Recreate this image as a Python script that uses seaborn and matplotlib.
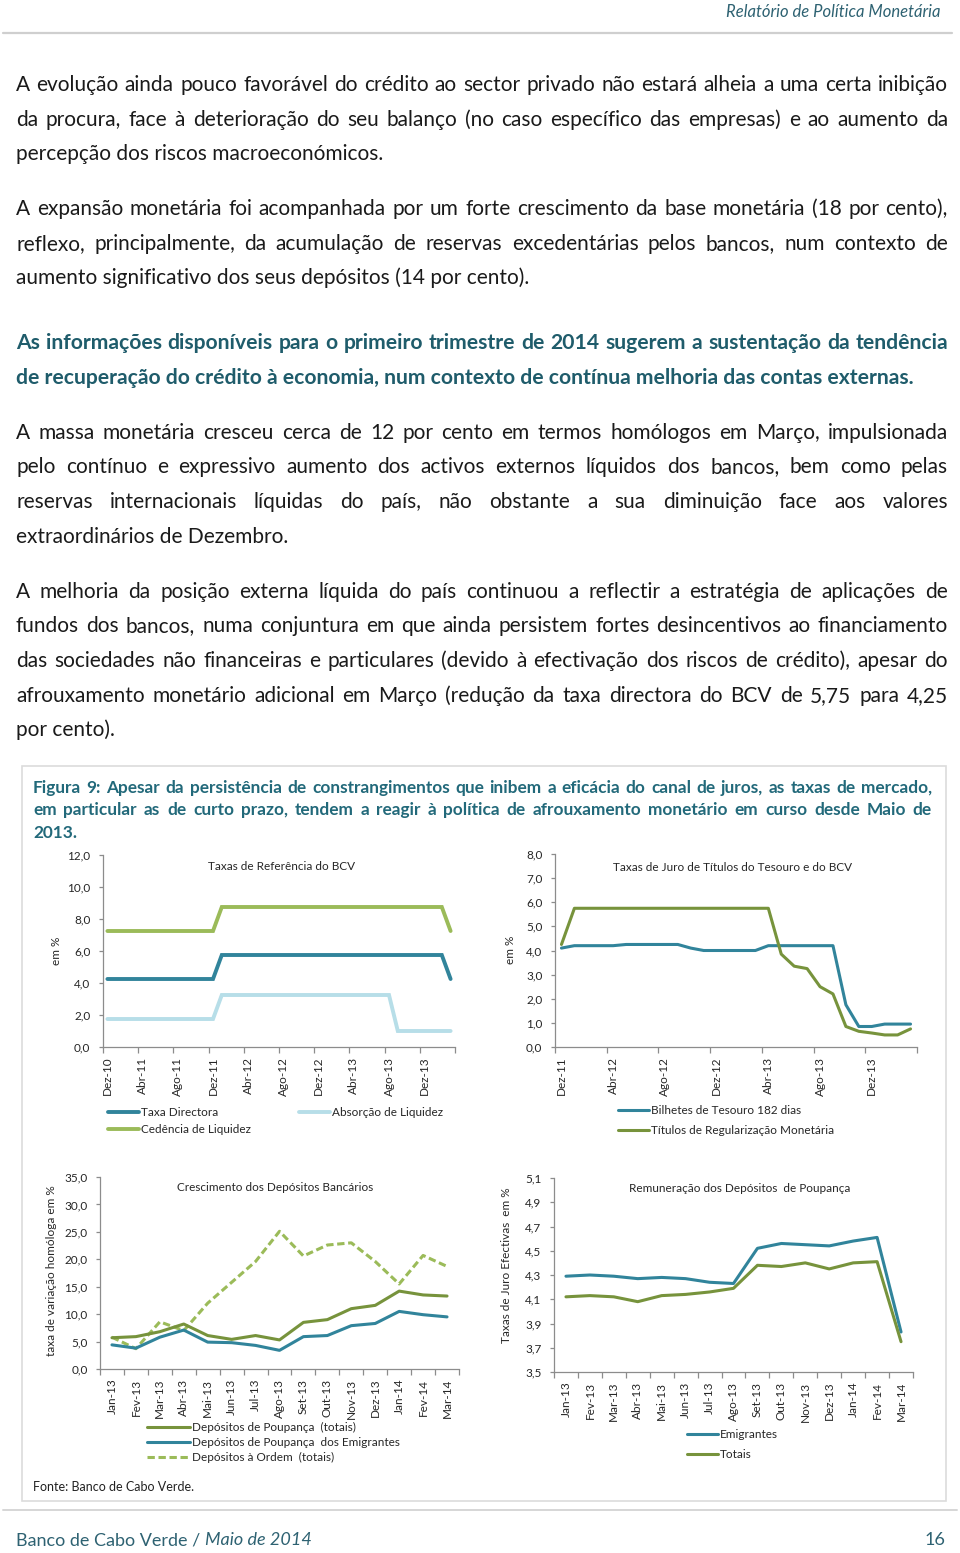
import numpy as np
import pandas as pd
import matplotlib
matplotlib.use('Agg')
import matplotlib.pyplot as plt
import seaborn as sns
from matplotlib.lines import Line2D
from matplotlib.patches import Rectangle

# ---- data -------------------------------------------------------------
ref_months = ['Dez-10', 'Jan-11', 'Fev-11', 'Mar-11', 'Abr-11', 'Mai-11', 'Jun-11', 'Jul-11',
              'Ago-11', 'Set-11', 'Out-11', 'Nov-11', 'Dez-11', 'Jan-12', 'Fev-12', 'Mar-12',
              'Abr-12', 'Mai-12', 'Jun-12', 'Jul-12', 'Ago-12', 'Set-12', 'Out-12', 'Nov-12',
              'Dez-12', 'Jan-13', 'Fev-13', 'Mar-13', 'Abr-13', 'Mai-13', 'Jun-13', 'Jul-13',
              'Ago-13', 'Set-13', 'Out-13', 'Nov-13', 'Dez-13', 'Jan-14', 'Fev-14', 'Mar-14']
taxa_directora = [4.25, 4.25, 4.25, 4.25, 4.25, 4.25, 4.25, 4.25, 4.25, 4.25, 4.25, 4.25, 4.25,
                  5.75, 5.75, 5.75, 5.75, 5.75, 5.75, 5.75, 5.75, 5.75, 5.75, 5.75, 5.75, 5.75,
                  5.75, 5.75, 5.75, 5.75, 5.75, 5.75, 5.75, 5.75, 5.75, 5.75, 5.75, 5.75, 5.75,
                  4.25]
cedencia = [7.25, 7.25, 7.25, 7.25, 7.25, 7.25, 7.25, 7.25, 7.25, 7.25, 7.25, 7.25, 7.25,
            8.75, 8.75, 8.75, 8.75, 8.75, 8.75, 8.75, 8.75, 8.75, 8.75, 8.75, 8.75, 8.75,
            8.75, 8.75, 8.75, 8.75, 8.75, 8.75, 8.75, 8.75, 8.75, 8.75, 8.75, 8.75, 8.75,
            7.25]
absorcao = [1.75, 1.75, 1.75, 1.75, 1.75, 1.75, 1.75, 1.75, 1.75, 1.75, 1.75, 1.75, 1.75,
            3.25, 3.25, 3.25, 3.25, 3.25, 3.25, 3.25, 3.25, 3.25, 3.25, 3.25, 3.25, 3.25,
            3.25, 3.25, 3.25, 3.25, 3.25, 3.25, 3.25, 1.0, 1.0, 1.0, 1.0, 1.0, 1.0, 1.0]

tit_months = ['Dez-11', 'Jan-12', 'Fev-12', 'Mar-12', 'Abr-12', 'Mai-12', 'Jun-12', 'Jul-12',
              'Ago-12', 'Set-12', 'Out-12', 'Nov-12', 'Dez-12', 'Jan-13', 'Fev-13', 'Mar-13',
              'Abr-13', 'Mai-13', 'Jun-13', 'Jul-13', 'Ago-13', 'Set-13', 'Out-13', 'Nov-13',
              'Dez-13', 'Jan-14', 'Fev-14', 'Mar-14']
bilhetes = [4.1, 4.2, 4.2, 4.2, 4.2, 4.25, 4.25, 4.25, 4.25, 4.25, 4.1, 4.0, 4.0, 4.0, 4.0, 4.0,
            4.2, 4.2, 4.2, 4.2, 4.2, 4.2, 1.75, 0.85, 0.85, 0.95, 0.95, 0.95]
trm = [4.25, 5.75, 5.75, 5.75, 5.75, 5.75, 5.75, 5.75, 5.75, 5.75, 5.75, 5.75, 5.75, 5.75, 5.75,
       5.75, 5.75, 3.85, 3.35, 3.25, 2.5, 2.2, 0.85, 0.65, 0.58, 0.5, 0.5, 0.75]

dep_months = ['Jan-13', 'Fev-13', 'Mar-13', 'Abr-13', 'Mai-13', 'Jun-13', 'Jul-13', 'Ago-13',
              'Set-13', 'Out-13', 'Nov-13', 'Dez-13', 'Jan-14', 'Fev-14', 'Mar-14']
poupanca_totais = [5.7, 5.9, 6.8, 8.2, 6.1, 5.4, 6.1, 5.3, 8.5, 9.0, 11.0, 11.6, 14.2, 13.5, 13.3]
poupanca_emigr = [4.4, 3.8, 5.8, 7.1, 4.9, 4.8, 4.3, 3.4, 5.9, 6.1, 7.9, 8.3, 10.5, 9.9, 9.5]
dep_ordem = [5.8, 3.7, 8.6, 7.0, 12.0, 15.8, 19.6, 25.1, 20.6, 22.6, 23.0, 19.6, 15.5, 20.7, 18.7]

rem_emigr = [4.29, 4.30, 4.29, 4.27, 4.28, 4.27, 4.24, 4.23, 4.52, 4.56, 4.55, 4.54, 4.58, 4.61, 3.83]
rem_totais = [4.12, 4.13, 4.12, 4.08, 4.13, 4.14, 4.16, 4.19, 4.38, 4.37, 4.40, 4.35, 4.40, 4.41, 3.75]

TEAL = '#31849B'
GREEN = '#77933C'
LGREEN = '#9BBB59'
LBLUE = '#B7DEE8'
TXT_TEAL = '#1f5c6b'

# ---- page setup -------------------------------------------------------
W, H = 960, 1553
sns.set_theme(style='white')
plt.rcParams['font.family'] = ['Lato', 'DejaVu Sans']

fig = plt.figure(figsize=(W / 100, H / 100), dpi=100)
fig.patch.set_facecolor('white')
renderer = fig.canvas.get_renderer()


def fx(px):
    return px / W


def fy(py):
    return 1 - py / H


def put_line(text, y, x0=16, x1=948, justify=True, **kw):
    words = text.split(' ')
    if not justify or len(words) == 1:
        return fig.text(fx(x0), fy(y), text, va='baseline', ha='left', **kw)
    arts = [fig.text(0, fy(y), w, va='baseline', ha='left', **kw) for w in words]
    widths = [a.get_window_extent(renderer).width for a in arts]
    gap = (x1 - x0 - sum(widths)) / (len(words) - 1)
    x = x0
    for a, w in zip(arts, widths):
        a.set_x(fx(x))
        x += w + gap


# header
fig.text(fx(940), fy(17), 'Relatório de Política Monetária', ha='right', va='baseline',
         fontsize=12, style='italic', color='#2e6272')
fig.add_artist(Line2D([fx(3), fx(952)], [fy(33), fy(33)], color='#cfcfcf', lw=1.6))

# body text
body = [
    (85, 'A evolução ainda pouco favorável do crédito ao sector privado não estará alheia a uma certa inibição', True, False),
    (120, 'da procura, face à deterioração do seu balanço (no caso específico das empresas) e ao aumento da', True, False),
    (154, 'percepção dos riscos macroeconómicos.', False, False),
    (209, 'A expansão monetária foi acompanhada por um forte crescimento da base monetária (18 por cento),', True, False),
    (244, 'reflexo, principalmente, da acumulação de reservas excedentárias pelos bancos, num contexto de', True, False),
    (278, 'aumento significativo dos seus depósitos (14 por cento).', False, False),
    (343, 'As informações disponíveis para o primeiro trimestre de 2014 sugerem a sustentação da tendência', True, True),
    (378, 'de recuperação do crédito à economia, num contexto de contínua melhoria das contas externas.', False, True),
    (433, 'A massa monetária cresceu cerca de 12 por cento em termos homólogos em Março, impulsionada', True, False),
    (467, 'pelo contínuo e expressivo aumento dos activos externos líquidos dos bancos, bem como pelas', True, False),
    (502, 'reservas internacionais líquidas do país, não obstante a sua diminuição face aos valores', True, False),
    (537, 'extraordinários de Dezembro.', False, False),
    (592, 'A melhoria da posição externa líquida do país continuou a reflectir a estratégia de aplicações de', True, False),
    (626, 'fundos dos bancos, numa conjuntura em que ainda persistem fortes desincentivos ao financiamento', True, False),
    (661, 'das sociedades não financeiras e particulares (devido à efectivação dos riscos de crédito), apesar do', True, False),
    (696, 'afrouxamento monetário adicional em Março (redução da taxa directora do BCV de 5,75 para 4,25', True, False),
    (730, 'por cento).', False, False),
]
for y, txt, just, bold in body:
    if bold:
        put_line(txt, y + 6, justify=just, fontsize=15.2, fontweight='bold', color=TXT_TEAL)
    else:
        put_line(txt, y + 6, justify=just, fontsize=15, color='#1a1a1a')

# figure box
fig.add_artist(Rectangle((fx(22), fy(1501)), (946 - 22) / W, (1501 - 766) / H,
                         transform=fig.transFigure, fill=False, ec='#dcdcdc', lw=1.2))
caption = [
    (788, 'Figura 9: Apesar da persistência de constrangimentos que inibem a eficácia do canal de juros, as taxas de mercado,', True),
    (810, 'em particular as de curto prazo, tendem a reagir à política de afrouxamento monetário em curso desde Maio de', True),
    (833, '2013.', False),
]
for y, txt, just in caption:
    put_line(txt, y + 5, x0=33, x1=932, justify=just, fontsize=12.4, fontweight='bold', color='#22697a')

fig.text(fx(33), fy(1491), 'Fonte: Banco de Cabo Verde.', fontsize=9, color='#222222', va='baseline')
fig.add_artist(Line2D([fx(3), fx(957)], [fy(1510), fy(1510)], color='#d6d6d6', lw=1.4))

# footer
t = fig.text(fx(16), fy(1545), 'Banco de Cabo Verde / ', fontsize=13, color='#2e6272', va='baseline')
wpx = t.get_window_extent(renderer).width
fig.text(fx(16 + wpx), fy(1545), 'Maio de 2014', fontsize=13, style='italic', color='#2e6272',
         va='baseline')
fig.text(fx(945), fy(1545), '16', fontsize=13, color='#2e6272', va='baseline', ha='right')


# ---- charts -----------------------------------------------------------
def make_ax(x0, y0, x1, y1):
    ax = fig.add_axes([fx(x0), fy(y1), (x1 - x0) / W, (y1 - y0) / H])
    for s in ['top', 'right']:
        ax.spines[s].set_visible(False)
    for s in ['left', 'bottom']:
        ax.spines[s].set_color('#8c8c8c')
        ax.spines[s].set_linewidth(0.9)
    ax.set_facecolor('none')
    return ax


def style_axes(ax, n, yticks, decimals, step):
    ax.set_xlim(-0.5, n - 0.5)
    ax.set_ylim(yticks[0], yticks[-1])
    ax.set_yticks(yticks)
    ax.set_yticklabels([f'{v:.{decimals}f}'.replace('.', ',') for v in yticks])
    ax.set_xticks(np.arange(-0.5, n, step), minor=True)
    ax.tick_params(axis='y', which='major', direction='out', length=3, width=0.9,
                   color='#8c8c8c', pad=6, labelsize=8.5, labelcolor='#262626', left=True)
    ax.tick_params(axis='x', which='minor', direction='out', length=4, width=0.9,
                   color='#8c8c8c', bottom=True)
    ax.tick_params(axis='x', which='major', length=0, pad=7, labelsize=8.5,
                   labelcolor='#262626', labelrotation=90)
    ax.set_xlabel('')
    ax.set_ylabel('')


def draw_legend(ax, handles, labels, x, y, ncol=1, spacing=0.5, colspace=2.0, hl=2.6):
    ax.legend(handles, labels, loc='upper left', bbox_to_anchor=(fx(x), fy(y)),
              bbox_transform=fig.transFigure, ncol=ncol, frameon=False, fontsize=8.5,
              handlelength=hl, handletextpad=0.2, labelspacing=spacing,
              columnspacing=colspace, borderpad=0, borderaxespad=0)


# chart 1: Taxas de Referência do BCV
ax1 = make_ax(103, 855, 455, 1047)
x1 = np.arange(len(ref_months))
sns.lineplot(x=x1, y=cedencia, ax=ax1, color=LGREEN, lw=2.8, solid_joinstyle='miter')
sns.lineplot(x=x1, y=taxa_directora, ax=ax1, color=TEAL, lw=2.8, solid_joinstyle='miter')
sns.lineplot(x=x1, y=absorcao, ax=ax1, color=LBLUE, lw=2.8, solid_joinstyle='miter')
style_axes(ax1, len(ref_months), [0, 2, 4, 6, 8, 10, 12], 1, 4)
ax1.set_xticks(x1[::4])
ax1.set_xticklabels(ref_months[::4])
ax1.tick_params(axis='x', which='major', length=0, pad=7)
fig.text(fx(282), fy(870), 'Taxas de Referência do BCV', ha='center', fontsize=8.5, color='#262626')
fig.text(fx(56), fy(951), 'em %', rotation=90, ha='center', va='center', fontsize=8.5, color='#262626')
draw_legend(ax1,
            [Line2D([], [], color=TEAL, lw=2.8), Line2D([], [], color=LGREEN, lw=2.8),
             Line2D([], [], color=LBLUE, lw=2.8)],
            ['Taxa Directora', 'Cedência de Liquidez', 'Absorção de Liquidez'],
            108, 1107, ncol=2, spacing=0.55, colspace=4.1)

# chart 2: Taxas de Juro de Títulos do Tesouro e do BCV
ax2 = make_ax(555, 854, 917, 1047)
x2 = np.arange(len(tit_months))
sns.lineplot(x=x2, y=bilhetes, ax=ax2, color=TEAL, lw=2.2)
sns.lineplot(x=x2, y=trm, ax=ax2, color=GREEN, lw=2.2)
style_axes(ax2, len(tit_months), [0, 1, 2, 3, 4, 5, 6, 7, 8], 1, 4)
ax2.set_xticks(x2[::4])
ax2.set_xticklabels(tit_months[::4])
ax2.tick_params(axis='x', which='major', length=0, pad=7)
fig.text(fx(733), fy(871), 'Taxas de Juro de Títulos do Tesouro e do BCV', ha='center',
         fontsize=8.5, color='#262626')
fig.text(fx(511), fy(950), 'em %', rotation=90, ha='center', va='center', fontsize=8.5, color='#262626')
draw_legend(ax2, [Line2D([], [], color=TEAL, lw=2.2), Line2D([], [], color=GREEN, lw=2.2)],
            ['Bilhetes de Tesouro 182 dias', 'Títulos de Regularização Monetária'],
            618, 1105, spacing=0.8)

# chart 3: Crescimento dos Depósitos Bancários
ax3 = make_ax(100, 1177, 459, 1369)
x3 = np.arange(len(dep_months))
sns.lineplot(x=x3, y=dep_ordem, ax=ax3, color=LGREEN, lw=2.2, linestyle=(0, (2.4, 1.2)))
sns.lineplot(x=x3, y=poupanca_totais, ax=ax3, color=GREEN, lw=2.2)
sns.lineplot(x=x3, y=poupanca_emigr, ax=ax3, color=TEAL, lw=2.2)
style_axes(ax3, len(dep_months), [0, 5, 10, 15, 20, 25, 30, 35], 1, 1)
ax3.set_xticks(x3)
ax3.set_xticklabels(dep_months)
ax3.tick_params(axis='x', which='major', length=0, pad=7)
fig.text(fx(275), fy(1191), 'Crescimento dos Depósitos Bancários', ha='center', fontsize=8.5,
         color='#262626')
fig.text(fx(52), fy(1271), 'taxa de variação homóloga em %', rotation=90, ha='center',
         va='center', fontsize=8.5, color='#262626')
draw_legend(ax3,
            [Line2D([], [], color=GREEN, lw=2.2), Line2D([], [], color=TEAL, lw=2.2),
             Line2D([], [], color=LGREEN, lw=2.2, linestyle=(0, (2.4, 1.2)))],
            ['Depósitos de Poupança  (totais)', 'Depósitos de Poupança  dos Emigrantes',
             'Depósitos à Ordem  (totais)'],
            147, 1422, spacing=0.33, hl=3.6)

# chart 4: Remuneração dos Depósitos de Poupança
ax4 = make_ax(554, 1178, 913, 1372)
x4 = np.arange(len(dep_months))
sns.lineplot(x=x4, y=rem_emigr, ax=ax4, color=TEAL, lw=2.2)
sns.lineplot(x=x4, y=rem_totais, ax=ax4, color=GREEN, lw=2.2)
style_axes(ax4, len(dep_months), [3.5, 3.7, 3.9, 4.1, 4.3, 4.5, 4.7, 4.9, 5.1], 1, 1)
ax4.set_xticks(x4)
ax4.set_xticklabels(dep_months)
ax4.tick_params(axis='x', which='major', length=0, pad=7)
fig.text(fx(740), fy(1192), 'Remuneração dos Depósitos  de Poupança', ha='center', fontsize=8.5,
         color='#262626')
fig.text(fx(507), fy(1265), 'Taxas de Juro Efectivas  em %', rotation=90, ha='center',
         va='center', fontsize=8.5, color='#262626')
draw_legend(ax4, [Line2D([], [], color=TEAL, lw=2.2), Line2D([], [], color=GREEN, lw=2.2)],
            ['Emigrantes', 'Totais'], 687, 1429, spacing=0.8)

fig.savefig('out.png', dpi=100, facecolor='white')
